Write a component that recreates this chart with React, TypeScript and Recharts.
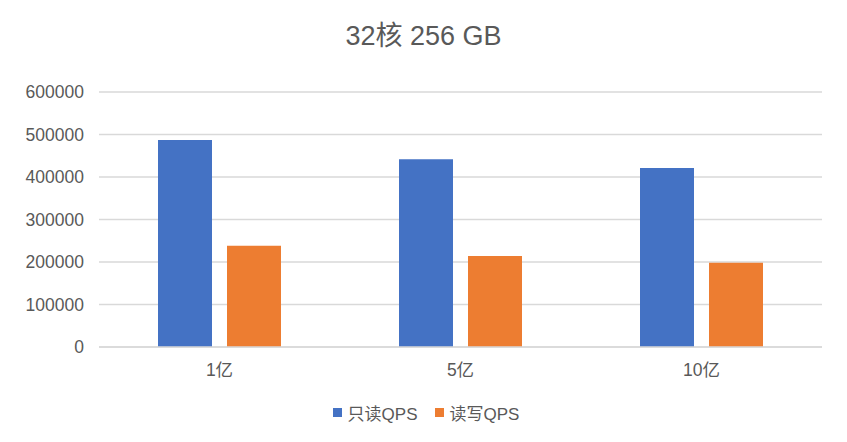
import React from 'react';
import { BarChart, Bar, XAxis, YAxis, CartesianGrid, Legend } from 'recharts';

const categories = ['1亿', '5亿', '10亿'];
const readOnlyQps = [487000, 442000, 421000];
const readWriteQps = [238000, 214000, 198000];
const yTicks = [0, 100000, 200000, 300000, 400000, 500000, 600000];

const seriesNames = { ro: '只读QPS', rw: '读写QPS' };
const colors = { ro: '#4472C4', rw: '#ED7D31' };

const data = categories.map((name, i) => ({
  name,
  ro: readOnlyQps[i],
  rw: readWriteQps[i],
}));

const font = '"Liberation Sans", "Noto Sans CJK SC", sans-serif';
const textColor = '#595959';

const LegendContent = () => (
  <div style={{ height: 30, display: 'flex', justifyContent: 'center', alignItems: 'center', fontFamily: font, fontSize: 17, color: textColor, paddingLeft: 30 }}>
    {(['ro', 'rw'] as const).map((k, i) => (
      <span key={k} style={{ display: 'flex', alignItems: 'center', marginLeft: i ? 17 : 0 }}>
        <span style={{ width: 9, height: 9, background: colors[k], marginRight: 6, display: 'inline-block' }} />
        {seriesNames[k]}
      </span>
    ))}
  </div>
);

export default function App() {
  return (
    <div style={{ position: 'absolute', left: 0, top: 0, width: 847, height: 442, background: '#fff' }}>
      <div style={{ position: 'absolute', top: 14, width: 847, textAlign: 'center', fontFamily: font, fontSize: 27, color: textColor }}>
        32核 256 GB
      </div>
      <BarChart
        width={847}
        height={442}
        data={data}
        margin={{ top: 92, right: 25, left: 0, bottom: 15 }}
        barSize={54}
        barGap={15}
      >
        <CartesianGrid vertical={false} stroke="#d9d9d9" strokeWidth={1.3} />
        <XAxis
          dataKey="name"
          height={50}
          axisLine={{ stroke: '#d9d9d9', strokeWidth: 1.3 }}
          tickLine={false}
          tickSize={0}
          tickMargin={17}
          tick={{ fill: textColor, fontSize: 17.5, fontFamily: font }}
        />
        <YAxis
          width={99}
          domain={[0, 600000]}
          ticks={yTicks}
          axisLine={false}
          tickLine={false}
          tickSize={0}
          tickMargin={15}
          tick={{ fill: textColor, fontSize: 17.5, fontFamily: font }}
        />
        <Legend verticalAlign="bottom" content={<LegendContent />} />
        <Bar dataKey="ro" name={seriesNames.ro} fill={colors.ro} isAnimationActive={false} />
        <Bar dataKey="rw" name={seriesNames.rw} fill={colors.rw} isAnimationActive={false} />
      </BarChart>
    </div>
  );
}
